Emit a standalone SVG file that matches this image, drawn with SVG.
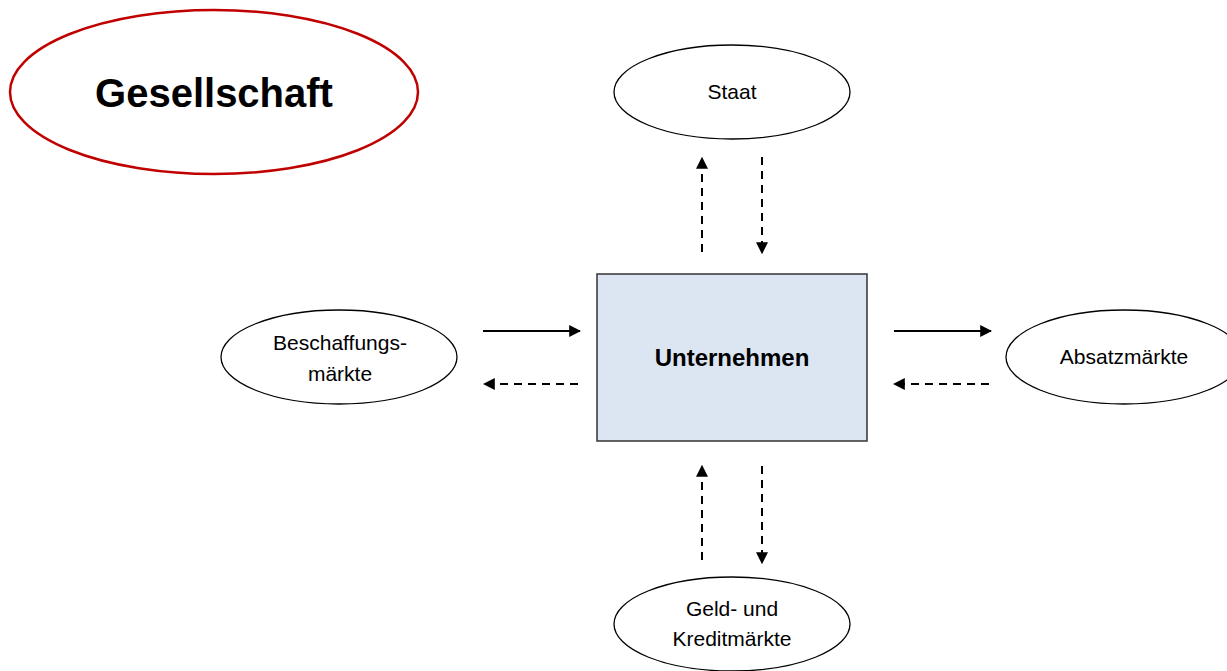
<svg xmlns="http://www.w3.org/2000/svg" width="1227" height="671" viewBox="0 0 1227 671">
<style>
.el{fill:#fff;stroke:#000;stroke-width:1.3}
.t{font-family:"Liberation Sans",Arial,sans-serif;font-size:21px;fill:#000;text-anchor:middle}
.c{stroke:#000;stroke-width:2;fill:none;marker-end:url(#ah)}
.d{stroke-dasharray:8 6}
</style>
<defs>
<marker id="ah" viewBox="0 0 10 10" refX="9" refY="5" markerWidth="6" markerHeight="6" orient="auto" markerUnits="strokeWidth">
<path d="M0,0 L10,5 L0,10 Z" fill="#000"/>
</marker>
</defs>
<rect width="1227" height="671" fill="#fff"/>
<g id="gesellschaft">
<ellipse cx="214" cy="92" rx="204" ry="82" fill="#fff" stroke="#C00000" stroke-width="2.5"/>
<text x="214" y="107" class="t" style="font-size:40px;font-weight:bold">Gesellschaft</text>
</g>
<g id="staat">
<ellipse class="el" cx="732" cy="92" rx="118" ry="47"/>
<text x="732" y="99" class="t">Staat</text>
</g>
<g id="unternehmen">
<rect x="597" y="274" width="270" height="167" fill="#DCE6F2" stroke="#333" stroke-width="1.5"/>
<text x="732" y="366" class="t" style="font-size:24px;font-weight:bold">Unternehmen</text>
</g>
<g id="beschaffung">
<ellipse class="el" cx="339" cy="357" rx="118" ry="47"/>
<text x="340" y="350" class="t">Beschaffungs-</text>
<text x="340" y="381" class="t">märkte</text>
</g>
<g id="absatz">
<ellipse class="el" cx="1124" cy="357" rx="118" ry="47"/>
<text x="1124" y="364" class="t">Absatzmärkte</text>
</g>
<g id="geld">
<ellipse class="el" cx="732" cy="624" rx="118" ry="47"/>
<text x="732" y="616" class="t">Geld- und</text>
<text x="732" y="646" class="t">Kreditmärkte</text>
</g>
<g id="connectors">
<line class="c" x1="483" y1="331" x2="580" y2="331"/>
<line class="c d" x1="578" y1="384" x2="484" y2="384"/>
<line class="c" x1="894" y1="331" x2="991" y2="331"/>
<line class="c d" x1="989" y1="384" x2="894" y2="384"/>
<line class="c d" x1="702" y1="252" x2="702" y2="158"/>
<line class="c d" x1="762" y1="157" x2="762" y2="253"/>
<line class="c d" x1="702" y1="560" x2="702" y2="466"/>
<line class="c d" x1="762" y1="466" x2="762" y2="563"/>
</g>
</svg>
